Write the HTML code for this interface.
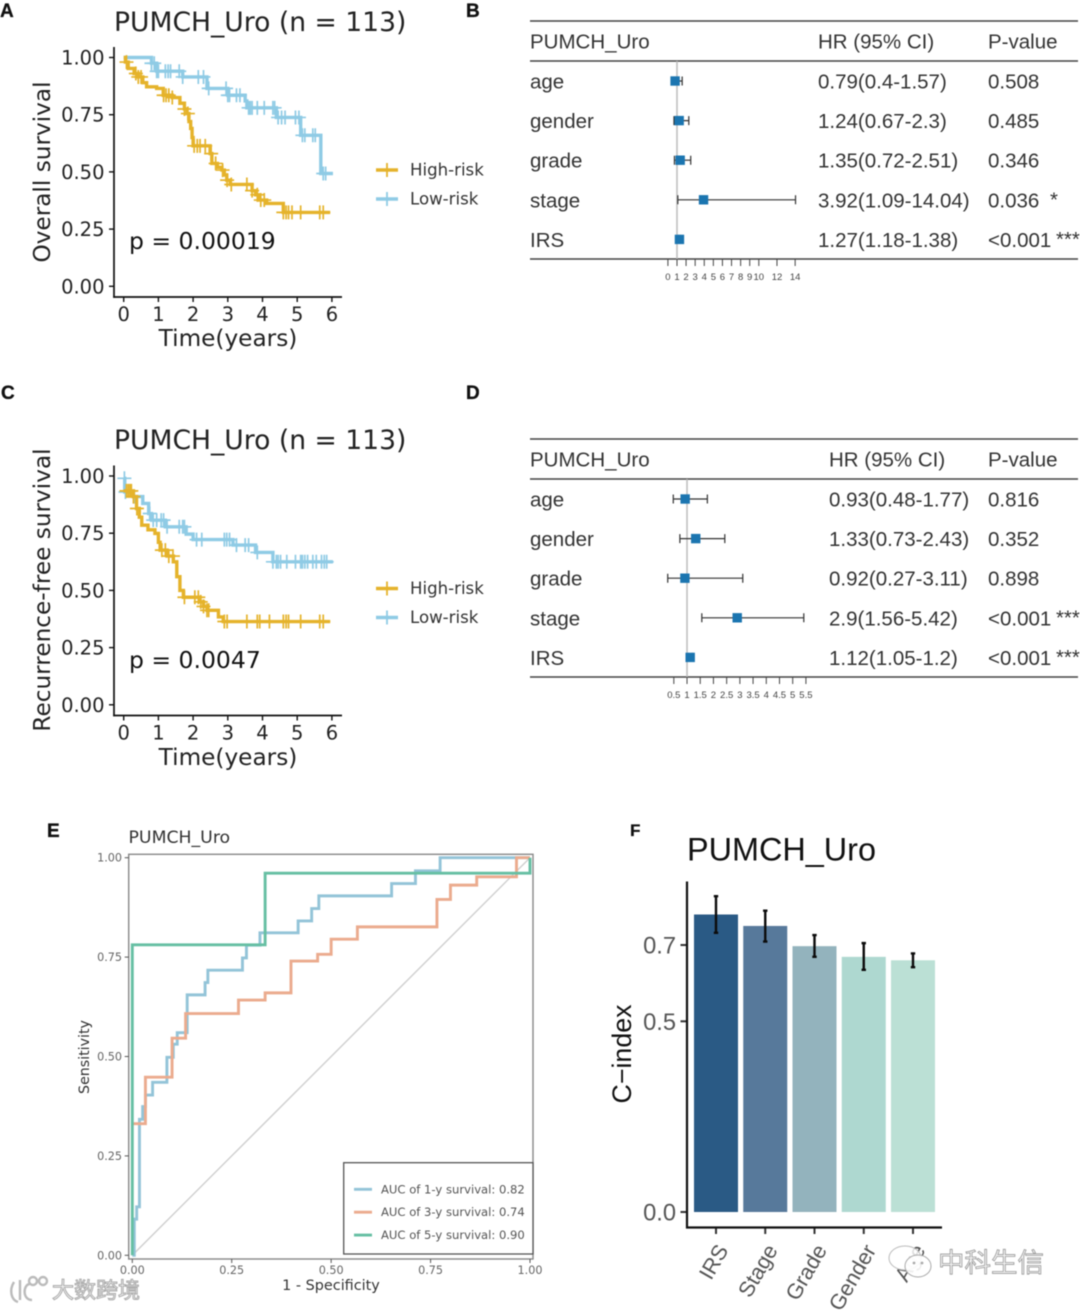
<!DOCTYPE html>
<html lang="en">
<head>
<meta charset="utf-8">
<title>PUMCH_Uro figure</title>
<style>
html,body{margin:0;padding:0;background:#fff;}
body{width:1080px;height:1310px;overflow:hidden;}
svg{display:block;filter:blur(.45px);}
.dj{font-family:"DejaVu Sans",sans-serif;}
.lib{font-family:"Liberation Sans",sans-serif;}
.letter{font-family:"Liberation Sans",sans-serif;font-weight:bold;font-size:19px;fill:#111;stroke:#111;stroke-width:.3;}
</style>
</head>
<body>
<svg id="figure" width="1080" height="1310" viewBox="0 0 1080 1310">
  <rect x="0" y="0" width="1080" height="1310" fill="#fff"/>

  <text class="letter" x="0" y="17">A</text>
  <text class="letter" x="466" y="17">B</text>
  <text class="letter" x="1" y="399">C</text>
  <text class="letter" x="466" y="399">D</text>
  <text class="letter" x="47" y="837">E</text>
  <text class="letter" x="630" y="836" style="font-size:17px">F</text>

  <g id="panel-a">
    <text class="dj" x="114" y="31" font-size="26.6" fill="#222">PUMCH_Uro (n = 113)</text>
    <text class="dj" x="0" y="0" transform="translate(50,172) rotate(-90)" text-anchor="middle" font-size="23.2" fill="#222">Overall survival</text>
    <text class="dj" x="228" y="346" text-anchor="middle" font-size="23.2" fill="#222">Time(years)</text>
    <text class="dj" x="129" y="249" font-size="23.5" fill="#111">p = 0.00019</text>
    <text class="dj" x="410" y="175.5" font-size="16.6" fill="#333">High-risk</text>
    <text class="dj" x="410" y="204.5" font-size="16.6" fill="#333">Low-risk</text>
    <path d="M376 170H398" stroke="#E5B32B" stroke-width="3.4" fill="none"/>
    <path d="M387 163V177" stroke="#E5B32B" stroke-width="1.8" fill="none"/>
    <path d="M376 199H398" stroke="#8FCBE5" stroke-width="3.4" fill="none"/>
    <path d="M387 192V206" stroke="#8FCBE5" stroke-width="1.8" fill="none"/>
  </g>

  <g id="panel-c">
    <text class="dj" x="114" y="449" font-size="26.6" fill="#222">PUMCH_Uro (n = 113)</text>
    <text class="dj" x="0" y="0" transform="translate(50,590) rotate(-90)" text-anchor="middle" font-size="23.2" fill="#222">Recurrence-free survival</text>
    <text class="dj" x="228" y="765" text-anchor="middle" font-size="23.2" fill="#222">Time(years)</text>
    <text class="dj" x="129" y="668" font-size="23.5" fill="#111">p = 0.0047</text>
    <text class="dj" x="410" y="594" font-size="16.6" fill="#333">High-risk</text>
    <text class="dj" x="410" y="623" font-size="16.6" fill="#333">Low-risk</text>
    <path d="M376 588.5H398" stroke="#E5B32B" stroke-width="3.4" fill="none"/>
    <path d="M387 581.5V595.5" stroke="#E5B32B" stroke-width="1.8" fill="none"/>
    <path d="M376 617.5H398" stroke="#8FCBE5" stroke-width="3.4" fill="none"/>
    <path d="M387 610.5V624.5" stroke="#8FCBE5" stroke-width="1.8" fill="none"/>
  </g>

  <g id="panel-b">
    <text class="lib" x="530" y="48.5" font-size="20.5" fill="#333">PUMCH_Uro</text>
    <text class="lib" x="818" y="48.5" font-size="20.5" fill="#333">HR (95% CI)</text>
    <text class="lib" x="988" y="48.5" font-size="20.5" fill="#333">P-value</text>
  </g>

  <g id="panel-d">
    <text class="lib" x="530" y="466.5" font-size="20.5" fill="#333">PUMCH_Uro</text>
    <text class="lib" x="829" y="466.5" font-size="20.5" fill="#333">HR (95% CI)</text>
    <text class="lib" x="988" y="466.5" font-size="20.5" fill="#333">P-value</text>
  </g>

  <g id="panel-e">
    <text class="dj" x="128.5" y="843" font-size="17.3" fill="#333">PUMCH_Uro</text>
    <text class="dj" x="0" y="0" transform="translate(89,1057) rotate(-90)" text-anchor="middle" font-size="14.2" fill="#333">Sensitivity</text>
    <text class="dj" x="331" y="1290" text-anchor="middle" font-size="14.4" fill="#333">1 - Specificity</text>
  </g>

  <g id="panel-f">
    <text class="lib" x="687" y="860.5" font-size="32.4" fill="#111">PUMCH_Uro</text>
    <text class="lib" x="0" y="0" transform="translate(631,1054) rotate(-90)" text-anchor="middle" font-size="26.8" fill="#111">C−index</text>
  </g>

  <g id="watermarks">
    <g>
      <ellipse cx="905" cy="1258" rx="16" ry="12" fill="#fff" fill-opacity=".8" stroke="#bbb" stroke-width="1"/>
      <ellipse cx="918" cy="1266" rx="13" ry="11" fill="#fff" fill-opacity=".9" stroke="#aaa" stroke-width="1"/>
      <circle cx="914" cy="1263" r="1.4" fill="#aaa"/>
      <circle cx="922" cy="1263" r="1.4" fill="#aaa"/>
    </g>
    <text x="938" y="1272" font-size="26.5" fill="#f4f4f4" stroke="#999" stroke-width=".8" style="font-family:'Liberation Sans','Noto Sans CJK SC',sans-serif">中科生信</text>
    <g fill="none" stroke="#bbb" stroke-width="2.4">
      <path d="M14 1282C9 1290 11 1300 18 1302M20 1280V1300M30 1284C23 1284 22 1300 32 1300"/>
      <circle cx="33" cy="1281" r="4"/>
      <circle cx="43" cy="1281" r="4"/>
    </g>
    <text x="52" y="1298" font-size="22" fill="#fdfdfd" stroke="#aaa" stroke-width="1" style="font-family:'Liberation Sans','Noto Sans CJK SC',sans-serif">大数跨境</text>
  </g>
</svg>

<script>
// ---------- Kaplan-Meier data (panel A: overall survival) ----------
const osHighTimes = [0, 0.05, 0.13, 0.3, 0.42, 0.55, 0.66, 0.95, 1.14, 1.4, 1.62, 1.75, 1.82, 1.88, 1.93, 1.97, 2.0, 2.49, 2.54, 2.7, 2.83, 2.9, 2.97, 3.07, 3.7, 3.8, 3.88, 4.12, 4.6, 5.95];
const osHighSurv = [1, 0.98, 0.952, 0.93, 0.915, 0.89, 0.872, 0.865, 0.835, 0.825, 0.80, 0.775, 0.755, 0.72, 0.69, 0.65, 0.614, 0.58, 0.537, 0.52, 0.508, 0.486, 0.464, 0.445, 0.418, 0.40, 0.377, 0.362, 0.323, 0.323];
const osHighCensor = [0.08, 0.35, 0.42, 0.5, 1.15, 1.22, 1.3, 1.4, 1.75, 1.85, 2.03, 2.12, 2.2, 2.35, 2.52, 2.65, 2.85, 2.98, 3.1, 3.55, 3.7, 3.85, 3.95, 4.05, 4.6, 4.68, 4.75, 4.85, 5.1, 5.65, 5.75];
const osLowTimes = [0, 0.8, 0.95, 1.7, 2.4, 3.0, 3.5, 3.55, 4.4, 5.1, 5.68, 6.03];
const osLowSurv = [1, 0.975, 0.94, 0.915, 0.865, 0.835, 0.81, 0.78, 0.738, 0.66, 0.493, 0.493];
const osLowCensor = [0.8, 0.88, 0.95, 1.0, 1.2, 1.28, 1.35, 1.6, 1.7, 2.15, 2.3, 2.45, 2.95, 3.0, 3.05, 3.25, 3.35, 3.6, 3.65, 3.7, 3.85, 4.05, 4.3, 4.35, 4.45, 4.55, 4.65, 4.95, 5.05, 5.15, 5.22, 5.45, 5.52, 5.75, 5.82];

// ---------- Kaplan-Meier data (panel C: recurrence-free survival) ----------
const rfsHighTimes = [0, 0.28, 0.37, 0.45, 0.52, 0.7, 0.9, 1.0, 1.05, 1.25, 1.43, 1.53, 1.62, 1.72, 2.2, 2.3, 2.4, 2.73, 2.87, 5.95];
const rfsHighSurv = [0.935, 0.91, 0.858, 0.82, 0.785, 0.765, 0.749, 0.71, 0.676, 0.65, 0.625, 0.56, 0.50, 0.47, 0.45, 0.43, 0.413, 0.384, 0.364, 0.364];
const rfsHighCensor = [0.08, 0.13, 0.18, 0.22, 0.28, 0.38, 1.1, 1.2, 1.3, 1.42, 1.75, 2.05, 2.15, 2.22, 2.3, 2.4, 2.45, 2.9, 2.98, 3.55, 3.85, 3.92, 4.2, 4.6, 4.68, 4.75, 5.1, 5.65, 5.75];
const rfsLowTimes = [0, 0.03, 0.28, 0.55, 0.72, 0.8, 1.2, 1.8, 2.0, 3.15, 3.8, 4.3, 6.03];
const rfsLowSurv = [0.99, 0.93, 0.91, 0.88, 0.836, 0.807, 0.778, 0.746, 0.722, 0.698, 0.666, 0.625, 0.625];
const rfsLowCensor = [0.02, 0.05, 0.3, 0.75, 0.85, 0.95, 1.08, 1.15, 1.25, 1.6, 1.7, 1.75, 2.1, 2.25, 2.9, 2.97, 3.05, 3.25, 3.5, 3.6, 3.85, 4.3, 4.4, 4.45, 4.52, 4.7, 4.95, 5.1, 5.15, 5.22, 5.3, 5.45, 5.55, 5.7, 5.78, 5.85];

const kmXTicks = [0, 1, 2, 3, 4, 5, 6];
const kmYTicks = [0, 0.25, 0.5, 0.75, 1];
const kmYTickLabels = ['0.00', '0.25', '0.50', '0.75', '1.00'];

// ---------- Forest plot data ----------
const forestLabels = ['age', 'gender', 'grade', 'stage', 'IRS'];
const forestBHr = ['0.79', '1.24', '1.35', '3.92', '1.27'];
const forestBLow = ['0.4', '0.67', '0.72', '1.09', '1.18'];
const forestBHigh = ['1.57', '2.3', '2.51', '14.04', '1.38'];
const forestBP = ['0.508', '0.485', '0.346', '0.036', '<0.001'];
const forestBStars = ['', '', '', '*', '***'];
const forestBTicks = [0, 1, 2, 3, 4, 5, 6, 7, 8, 9, 10, 12, 14];

const forestDHr = ['0.93', '1.33', '0.92', '2.9', '1.12'];
const forestDLow = ['0.48', '0.73', '0.27', '1.56', '1.05'];
const forestDHigh = ['1.77', '2.43', '3.11', '5.42', '1.2'];
const forestDP = ['0.816', '0.352', '0.898', '<0.001', '<0.001'];
const forestDStars = ['', '', '', '***', '***'];
const forestDTicks = [0.5, 1, 1.5, 2, 2.5, 3, 3.5, 4, 4.5, 5, 5.5];

// ---------- ROC data ----------
const roc1Fpr = [0, 0.005, 0.011, 0.018, 0.026, 0.033, 0.051, 0.087, 0.103, 0.113, 0.138, 0.183, 0.19, 0.277, 0.287, 0.321, 0.417, 0.451, 0.469, 0.652, 0.712, 0.774, 1];
const roc1Tpr = [0, 0.091, 0.122, 0.342, 0.374, 0.403, 0.435, 0.498, 0.531, 0.56, 0.655, 0.686, 0.717, 0.748, 0.78, 0.811, 0.841, 0.872, 0.904, 0.935, 0.967, 1, 1];
const roc3Fpr = [0, 0.033, 0.1, 0.134, 0.267, 0.334, 0.399, 0.466, 0.5, 0.566, 0.766, 0.8, 0.866, 0.966, 1];
const roc3Tpr = [0.331, 0.448, 0.546, 0.608, 0.642, 0.66, 0.74, 0.757, 0.795, 0.826, 0.895, 0.931, 0.952, 1, 1];
const roc5Fpr = [0, 0.334, 1];
const roc5Tpr = [0.781, 0.961, 1];
const rocTicks = [0, 0.25, 0.5, 0.75, 1];
const rocTickLabels = ['0.00', '0.25', '0.50', '0.75', '1.00'];
const rocLegendLabels = ['AUC of 1-y survival: 0.82', 'AUC of 3-y survival: 0.74', 'AUC of 5-y survival: 0.90'];

// ---------- C-index data ----------
const cCategories = ['IRS', 'Stage', 'Grade', 'Gender', 'Age'];
const cValues = [0.78, 0.75, 0.697, 0.669, 0.66];
const cLower = [0.732, 0.709, 0.669, 0.635, 0.642];
const cUpper = [0.828, 0.79, 0.726, 0.705, 0.678];
const cYTicks = [0, 0.5, 0.7];
const cYTickLabels = ['0.0', '0.5', '0.7'];
const cColors = ['#2A5A85', '#57799B', '#93B3BD', '#AED8D0', '#BBE0D5'];

const svgRoot = document.getElementById('figure');
const NS = svgRoot.namespaceURI;

function mk(parent, tag, attrs, text) {
  const el = document.createElementNS(NS, tag);
  for (const k in attrs) el.setAttribute(k, attrs[k]);
  if (text !== undefined) el.textContent = text;
  parent.appendChild(el);
  return el;
}

function stepPath(xs, ys, xFn, yFn) {
  let d = 'M' + xFn(xs[0]).toFixed(2) + ' ' + yFn(ys[0]).toFixed(2);
  for (let i = 1; i < xs.length; i++) {
    d += 'H' + xFn(xs[i]).toFixed(2) + 'V' + yFn(ys[i]).toFixed(2);
  }
  return d;
}

function stepLookup(times, surv, t) {
  let s = surv[0];
  for (let i = 0; i < times.length; i++) {
    if (times[i] <= t) s = surv[i];
  }
  return s;
}

// ---------- Kaplan-Meier panel ----------
function drawKm(group, offset, series) {
  const xKm = t => 123.7 + 34.7 * t;
  const yKm = s => offset + 286.3 - 228.8 * s;
  const axisY = offset + 297;

  const yAxis = mk(group, 'line', {x1: 114, x2: 114, y1: offset + 47, y2: axisY + 0.75, stroke: '#111', 'stroke-width': 1.7});
  
  
  const xAxis = mk(group, 'line', {x1: 113.2, x2: 342, y1: axisY, y2: axisY, stroke: '#111', 'stroke-width': 1.7});
  
  

  kmXTicks.forEach(t => {
    const tick = mk(group, 'line', {x1: xKm(t), x2: xKm(t), y1: axisY, y2: axisY + 5, stroke: '#111', 'stroke-width': 1.4});
    
    
    const label = mk(group, 'text', {x: xKm(t), y: axisY + 24, 'text-anchor': 'middle', 'font-size': 19.5, fill: '#222', 'font-family': 'DejaVu Sans, sans-serif'}, String(t));
    
    
  });
  kmYTicks.forEach((v, i) => {
    const tick = mk(group, 'line', {x1: 109, x2: 114, y1: yKm(v), y2: yKm(v), stroke: '#111', 'stroke-width': 1.4});
    
    
    const label = mk(group, 'text', {x: 104.5, y: yKm(v) + 7, 'text-anchor': 'end', 'font-size': 19.5, fill: '#222', 'font-family': 'DejaVu Sans, sans-serif'}, kmYTickLabels[i]);
    
    
  });

  series.forEach(sr => {
    const curve = mk(group, 'path', {d: stepPath(sr.times, sr.surv, xKm, yKm), fill: 'none', stroke: sr.color, 'stroke-width': 3.4});
    
    
    sr.censor.forEach(t => {
      const cx = xKm(t);
      const cy = yKm(stepLookup(sr.times, sr.surv, t));
      const mark = mk(group, 'path', {d: 'M' + (cx - 7) + ' ' + cy + 'H' + (cx + 7) + 'M' + cx + ' ' + (cy - 7) + 'V' + (cy + 7), fill: 'none', stroke: sr.color, 'stroke-width': 1.7});
      
      
    });
  });
}

drawKm(document.getElementById('panel-a'), 0, [
  {name: 'low-risk', color: '#8FCBE5', times: osLowTimes, surv: osLowSurv, censor: osLowCensor},
  {name: 'high-risk', color: '#E5B32B', times: osHighTimes, surv: osHighSurv, censor: osHighCensor}
]);
drawKm(document.getElementById('panel-c'), 418.5, [
  {name: 'low-risk', color: '#8FCBE5', times: rfsLowTimes, surv: rfsLowSurv, censor: rfsLowCensor},
  {name: 'high-risk', color: '#E5B32B', times: rfsHighTimes, surv: rfsHighSurv, censor: rfsHighCensor}
]);

// ---------- Forest panel ----------
function drawForest(group, top, x0, unit, refValue, ticks, hr, low, high, pv, stars, hrX) {
  const xF = v => x0 + unit * v;
  const ruleY = [top, top + 40, top + 238];
  ruleY.forEach(y => {
    const rule = mk(group, 'line', {x1: 530, x2: 1078, y1: y, y2: y, stroke: '#444', 'stroke-width': 1.5});
    
    
  });
  const ref = mk(group, 'line', {x1: xF(refValue), x2: xF(refValue), y1: top + 40, y2: top + 238, stroke: '#bdbdbd', 'stroke-width': 1.5});
  
  

  ticks.forEach(v => {
    const tick = mk(group, 'line', {x1: xF(v), x2: xF(v), y1: top + 238, y2: top + 245, stroke: '#444', 'stroke-width': 1});
    
    
    const label = mk(group, 'text', {x: xF(v), y: top + 259, 'text-anchor': 'middle', 'font-size': 9.5, fill: '#444', 'font-family': 'Liberation Sans, sans-serif'}, String(v));
    
    
  });

  forestLabels.forEach((name, i) => {
    const y = top + 60 + i * 39.6;
    const rowLabel = mk(group, 'text', {x: 530, y: y + 7.5, 'font-size': 20.5, fill: '#333', 'font-family': 'Liberation Sans, sans-serif'}, name);
    
    
    const hrText = mk(group, 'text', {x: hrX, y: y + 7.5, 'font-size': 20.5, fill: '#333', 'font-family': 'Liberation Sans, sans-serif'}, hr[i] + '(' + low[i] + '-' + high[i] + ')');
    
    
    const pText = mk(group, 'text', {x: 988, y: y + 7.5, 'font-size': 20.5, fill: '#333', 'font-family': 'Liberation Sans, sans-serif'}, pv[i]);
    
    
    if (stars[i]) {
      const starText = mk(group, 'text', {x: stars[i].length > 1 ? 1056 : 1050, y: y + 6.5, 'font-size': 20.4, fill: '#333', 'font-family': 'Liberation Sans, sans-serif'}, stars[i]);
      
      
    }
    const xl = xF(+low[i]);
    const xh = xF(+high[i]);
    const ci = mk(group, 'path', {d: 'M' + xl + ' ' + (y - 4.5) + 'V' + (y + 4.5) + 'M' + xl + ' ' + y + 'H' + xh + 'M' + xh + ' ' + (y - 4.5) + 'V' + (y + 4.5), fill: 'none', stroke: '#333', 'stroke-width': 1.2});
    
    
    const box = mk(group, 'rect', {x: xF(+hr[i]) - 4.7, y: y - 4.7, width: 9.4, height: 9.4, fill: '#1B75B0'});
    
    
  });
}

drawForest(document.getElementById('panel-b'), 21, 667.9, 9.09, 1, forestBTicks, forestBHr, forestBLow, forestBHigh, forestBP, forestBStars, 818);
drawForest(document.getElementById('panel-d'), 439, 660.6, 26.42, 1, forestDTicks, forestDHr, forestDLow, forestDHigh, forestDP, forestDStars, 829);

// ---------- ROC panel ----------
(function drawRoc() {
  const group = document.getElementById('panel-e');
  const xR = v => 132.3 + 397.7 * v;
  const yR = v => 1255.3 - 397.6 * v;

  const frame = mk(group, 'rect', {x: 128.7, y: 854.3, width: 404.3, height: 404.7, fill: 'none', stroke: '#888', 'stroke-width': 1.4});
  
  

  rocTicks.forEach((v, i) => {
    const xt = mk(group, 'line', {x1: xR(v), x2: xR(v), y1: 1259, y2: 1263, stroke: '#555', 'stroke-width': 1});
    
    
    const xl = mk(group, 'text', {x: xR(v), y: 1274, 'text-anchor': 'middle', 'font-size': 11.2, fill: '#666', 'font-family': 'DejaVu Sans, sans-serif'}, rocTickLabels[i]);
    
    
    const yt = mk(group, 'line', {x1: 124.7, x2: 128.7, y1: yR(v), y2: yR(v), stroke: '#555', 'stroke-width': 1});
    
    
    const yl = mk(group, 'text', {x: 122, y: yR(v) + 4, 'text-anchor': 'end', 'font-size': 11.2, fill: '#666', 'font-family': 'DejaVu Sans, sans-serif'}, rocTickLabels[i]);
    
    
  });

  const diag = mk(group, 'line', {x1: xR(0), y1: yR(0), x2: xR(1), y2: yR(1), stroke: '#cfcfcf', 'stroke-width': 1.4});
  
  

  const curve1 = mk(group, 'path', {d: stepPath(roc1Fpr, roc1Tpr, xR, yR), fill: 'none', stroke: '#93C4D8', 'stroke-width': 2.9});
  
  
  const curve3 = mk(group, 'path', {d: stepPath(roc3Fpr, roc3Tpr, xR, yR), fill: 'none', stroke: '#EBAB8E', 'stroke-width': 2.9});
  
  
  const curve5 = mk(group, 'path', {d: stepPath([0].concat(roc5Fpr), [0].concat(roc5Tpr), xR, yR), fill: 'none', stroke: '#66BFA3', 'stroke-width': 2.9});
  
  

  const legendBox = mk(group, 'rect', {x: 343.7, y: 1162.7, width: 189.3, height: 91.3, fill: '#fff', stroke: '#555', 'stroke-width': 1.3});
  
  
  const legendColors = ['#93C4D8', '#EBAB8E', '#66BFA3'];
  rocLegendLabels.forEach((t, i) => {
    const y = 1189.3 + i * 22.9;
    const key = mk(group, 'line', {x1: 354, x2: 372, y1: y, y2: y, stroke: legendColors[i], 'stroke-width': 2.9});
    
    
    const lab = mk(group, 'text', {x: 381, y: y + 4, 'font-size': 11.6, fill: '#555', 'font-family': 'DejaVu Sans, sans-serif'}, t);
    
    
  });
})();

// ---------- C-index bar panel ----------
(function drawBars() {
  const group = document.getElementById('panel-f');
  const xB = i => 716 + 49.25 * i;
  const yB = v => 1212 - 381.4 * v;
  const barW = 44;

  cCategories.forEach((name, i) => {
    const bar = mk(group, 'rect', {x: xB(i) - barW / 2, y: yB(cValues[i]), width: barW, height: yB(0) - yB(cValues[i]), fill: cColors[i]});
    
    
    const xc = xB(i);
    const err = mk(group, 'path', {d: 'M' + (xc - 2.2) + ' ' + yB(cUpper[i]) + 'H' + (xc + 2.2) + 'M' + xc + ' ' + yB(cUpper[i]) + 'V' + yB(cLower[i]) + 'M' + (xc - 2.2) + ' ' + yB(cLower[i]) + 'H' + (xc + 2.2), fill: 'none', stroke: '#0c0c0c', 'stroke-width': 2.4});
    
    
    const tick = mk(group, 'line', {x1: xc, x2: xc, y1: 1227, y2: 1234, stroke: '#333', 'stroke-width': 2});
    
    
    const ax = xc + 13;
    const label = mk(group, 'text', {x: ax, y: 1250, transform: 'rotate(-60 ' + ax + ' 1250)', 'text-anchor': 'end', 'font-size': 21.6, fill: '#555', 'font-family': 'Liberation Sans, sans-serif'}, name);
    
    
  });

  cYTicks.forEach((v, i) => {
    const tick = mk(group, 'line', {x1: 680.5, x2: 687, y1: yB(v), y2: yB(v), stroke: '#333', 'stroke-width': 2});
    
    
    const label = mk(group, 'text', {x: 676, y: yB(v) + 8.5, 'text-anchor': 'end', 'font-size': 23.7, fill: '#555', 'font-family': 'Liberation Sans, sans-serif'}, cYTickLabels[i]);
    
    
  });

  const yAxis = mk(group, 'line', {x1: 687, x2: 687, y1: 881.5, y2: 1228.5, stroke: '#111', 'stroke-width': 2.2});
  
  
  const xAxis = mk(group, 'line', {x1: 686, x2: 942, y1: 1227.5, y2: 1227.5, stroke: '#111', 'stroke-width': 2.2});
  
  
})();

// keep watermarks above every chart
svgRoot.appendChild(document.getElementById('watermarks'));
</script>
</body>
</html>
